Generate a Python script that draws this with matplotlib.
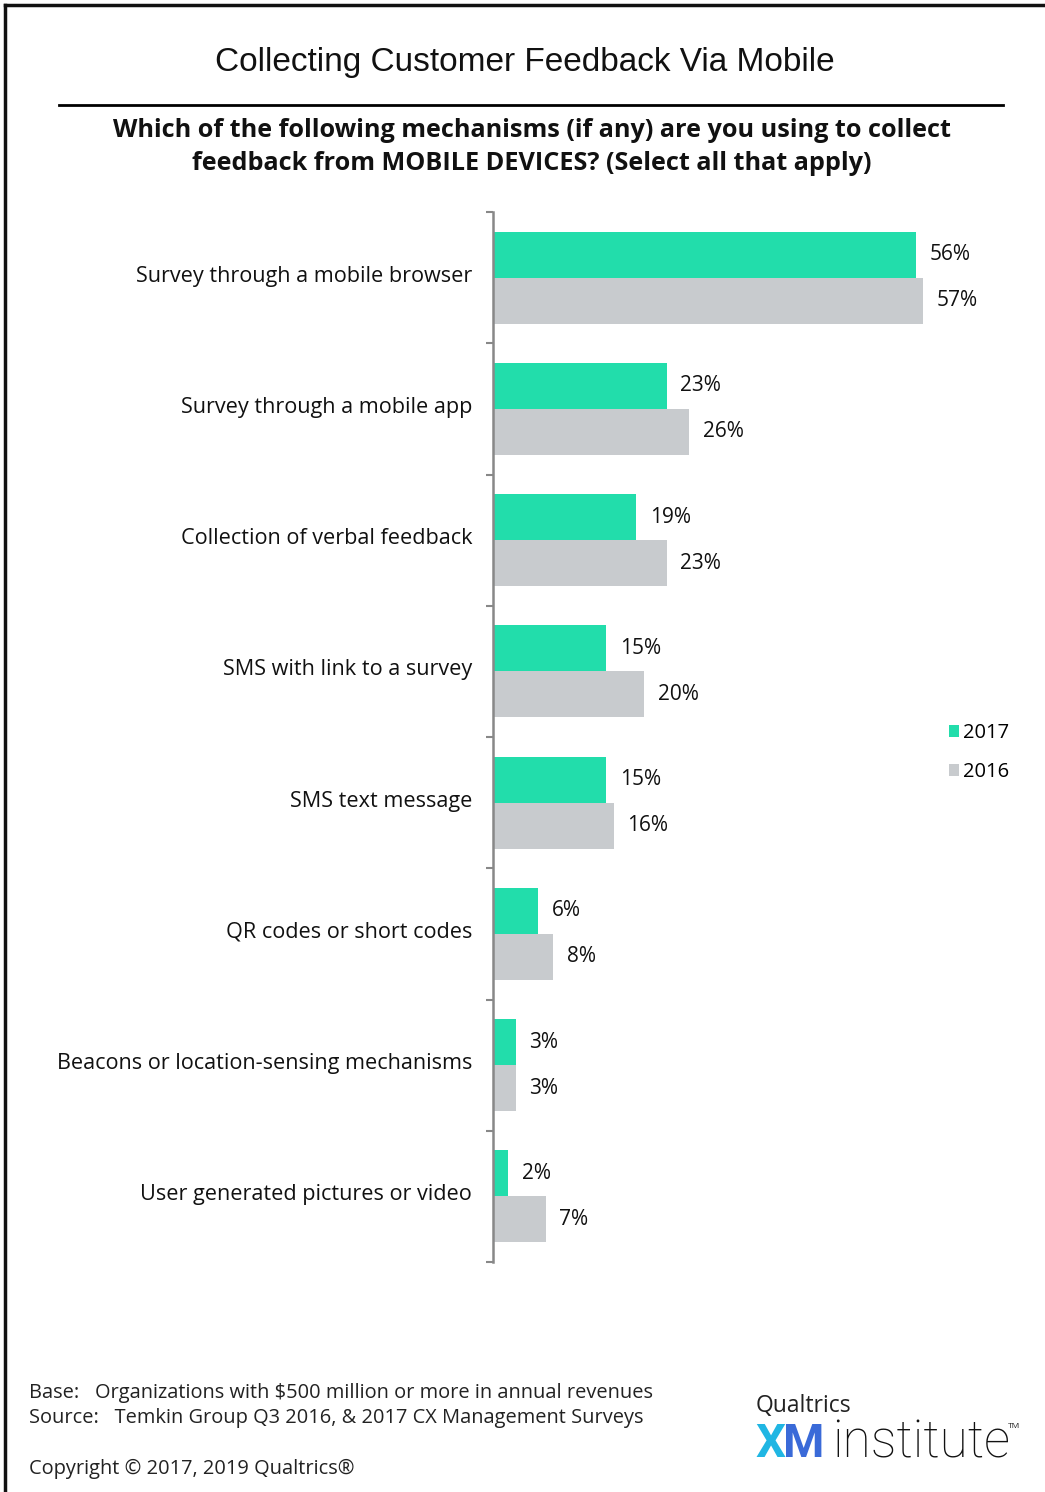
import matplotlib.pyplot as plt
from matplotlib.lines import Line2D
import numpy as np

plt.rcParams['font.family'] = ['Open Sans', 'DejaVu Sans']

categories = [
    "Survey through a mobile browser",
    "Survey through a mobile app",
    "Collection of verbal feedback",
    "SMS with link to a survey",
    "SMS text message",
    "QR codes or short codes",
    "Beacons or location-sensing mechanisms",
    "User generated pictures or video",
]
values_2017 = [56, 23, 19, 15, 15, 6, 3, 2]
values_2016 = [57, 26, 23, 20, 16, 8, 3, 7]
series_labels = ["2017", "2016"]

GREEN = "#22ddab"
GRAY = "#c8cbce"

W, H = 1045, 1492
fig = plt.figure(figsize=(W / 100, H / 100), dpi=100)

def fx(px):
    return px / W

def fy(py):
    return 1 - py / H

# chart area
ax = fig.add_axes([fx(493), fy(1262), fx(1000) - fx(493), fy(212) - fy(1262)])
y = np.arange(len(categories))
bh = 0.35
b17 = ax.barh(y - bh / 2, values_2017, height=bh, color=GREEN, label=series_labels[0])
b16 = ax.barh(y + bh / 2, values_2016, height=bh, color=GRAY, label=series_labels[1])

for yy, v in zip(y - bh / 2, values_2017):
    ax.text(v + 1.8, yy, f"{v}%", va="center", ha="left", fontsize=15, color="#111111")
for yy, v in zip(y + bh / 2, values_2016):
    ax.text(v + 1.8, yy, f"{v}%", va="center", ha="left", fontsize=15, color="#111111")

ax.set_xlim(0, (1000 - 493) / 7.55)
ax.set_ylim(len(categories) - 0.5, -0.5)
ax.set_xticks([])
ax.set_yticks(np.arange(len(categories) + 1) - 0.5)
ax.set_yticklabels([])
ax.set_yticks(y - 0.03, minor=True)
ax.set_yticklabels(categories, minor=True, fontsize=15.6, color="#111111")
ax.tick_params(axis="y", which="major", length=5, width=1.5, color="#888888", direction="out")
ax.tick_params(axis="y", which="minor", length=0, pad=15)
for s in ["top", "right", "bottom"]:
    ax.spines[s].set_visible(False)
ax.spines["left"].set_color("#888888")
ax.spines["left"].set_linewidth(1.8)

leg = fig.legend(handles=[b17, b16], labels=series_labels, loc="upper left",
                 bbox_to_anchor=(fx(931), fy(705)), frameon=False, fontsize=14.5,
                 handlelength=0.5, handleheight=0.5, handletextpad=0.2,
                 labelspacing=0.95)

# titles
fig.text(fx(525), fy(62), "Collecting Customer Feedback Via Mobile", ha="center", va="center",
         fontsize=24, family=["Liberation Sans", "DejaVu Sans"], color="#111111")
fig.add_artist(Line2D([fx(59), fx(1003)], [fy(105), fy(105)], color="black", lw=2))
fig.text(fx(532), fy(147), "Which of the following mechanisms (if any) are you using to collect\n"
         "feedback from MOBILE DEVICES? (Select all that apply)", ha="center", va="center",
         fontsize=18.2, fontweight="bold", linespacing=1.4, color="#111111")

# frame lines on top and left
fig.add_artist(Line2D([fx(5), fx(5)], [0, fy(5)], color="#111111", lw=2.5))
fig.add_artist(Line2D([fx(5), 1], [fy(5), fy(5)], color="#111111", lw=2.5))

# footer
fig.text(fx(29), fy(1393), "Base:   Organizations with $500 million or more in annual revenues",
         ha="left", va="center", fontsize=14.4, color="#222222")
fig.text(fx(29), fy(1418), "Source:   Temkin Group Q3 2016, & 2017 CX Management Surveys",
         ha="left", va="center", fontsize=14.4, color="#222222")
fig.text(fx(29), fy(1469), "Copyright \u00a9 2017, 2019 Qualtrics\u00ae",
         ha="left", va="center", fontsize=14.4, color="#222222")

# logo
fig.text(fx(756), fy(1406), "Qualtrics", ha="left", va="center", fontsize=16.5, color="#222222")
fig.text(fx(755), fy(1444), "X", ha="left", va="center", fontsize=34, fontweight="bold",
         family=["Roboto", "DejaVu Sans"], color="#20b6e3")
fig.text(fx(783), fy(1444), "M", ha="left", va="center", fontsize=34, fontweight="bold",
         family=["Roboto", "DejaVu Sans"], color="#3a6ad8")
fig.text(fx(832), fy(1444), "institute", ha="left", va="center", fontsize=37,
         fontweight="light", family=["Roboto", "DejaVu Sans"], color="#111111")
fig.text(fx(1008), fy(1426), "TM", ha="left", va="center", fontsize=6, color="#222222")

fig.savefig("out.png", dpi=100)
